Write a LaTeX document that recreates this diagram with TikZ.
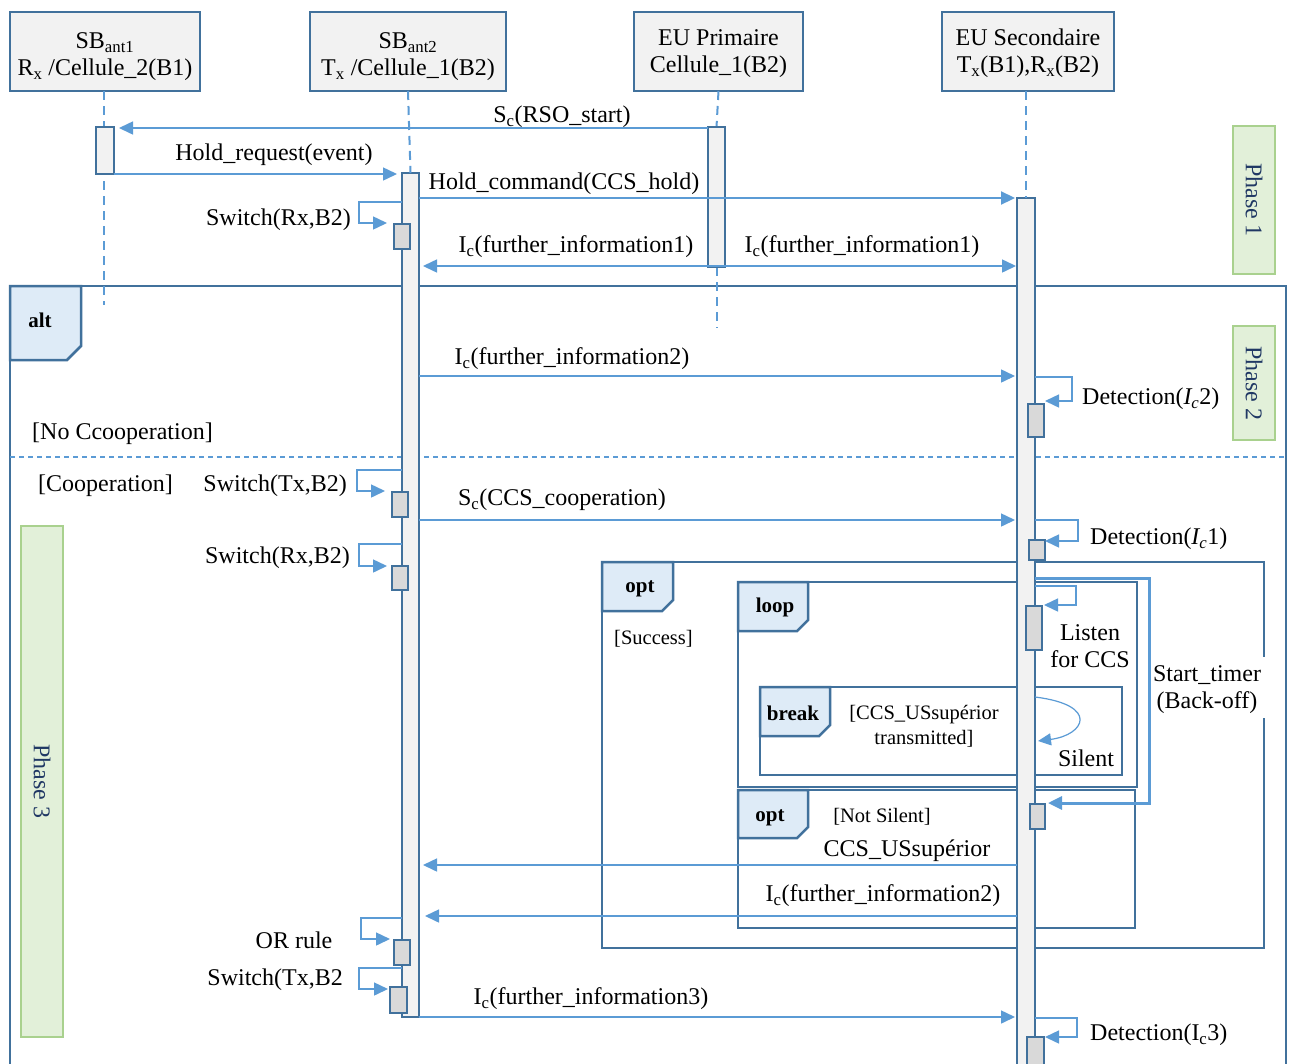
\documentclass[tikz,border=0pt]{standalone}
\usepackage{fontspec}
\setmainfont{Liberation Serif}
\usetikzlibrary{arrows.meta}
\definecolor{frameblue}{HTML}{41719C}
\definecolor{msgblue}{HTML}{5B9BD5}
\definecolor{hdrfill}{HTML}{F2F2F2}
\definecolor{sboxfill}{HTML}{D9D9D9}
\definecolor{tagfill}{HTML}{DEEBF7}
\definecolor{phasefill}{HTML}{E2F0D9}
\definecolor{phaseborder}{HTML}{A9D18E}
\definecolor{phasetext}{HTML}{203864}
\tikzset{
 hdr/.style={draw=frameblue,line width=2.5pt,fill=hdrfill,inner sep=0pt,outer sep=0pt},
 hdrtext/.style={align=center,inner sep=0pt,font=\fontsize{24}{27}\selectfont},
 actbar/.style={draw=frameblue,line width=2.5pt,fill=hdrfill,inner sep=0pt,outer sep=0pt},
 sbox/.style={draw=frameblue,line width=2.5pt,fill=sboxfill,inner sep=0pt,outer sep=0pt},
 life/.style={draw=msgblue,line width=2pt,dash pattern=on 9pt off 6pt},
 msg/.style={draw=msgblue,line width=1.5pt,-{Triangle[length=14pt,width=13pt]}},
 frm/.style={draw=frameblue,line width=2.5pt},
 tagbox/.style={draw=frameblue,line width=2.5pt,fill=tagfill},
 phasebox/.style={draw=phaseborder,line width=2.5pt,fill=phasefill,inner sep=0pt,outer sep=0pt},
 lbl/.style={inner sep=0pt,font=\fontsize{24}{27}\selectfont,align=center,yshift=-3pt},
 slbl/.style={inner sep=0pt,font=\fontsize{20.5}{25}\selectfont,align=center,yshift=-2pt},
 taglbl/.style={inner sep=0pt,font=\fontsize{21}{25}\selectfont\bfseries,yshift=-2pt},
}
\begin{document}
\begin{tikzpicture}[x=1pt,y=-1pt]
\clip (0,0) rectangle (1290,1063);
\fill[white] (0,0) rectangle (1290,1063);
% ---------- frames ----------
\draw[frm] (10,286) rectangle (1286,1120);
\draw[msgblue,line width=1.2pt,dash pattern=on 5pt off 4pt] (10,457) -- (1286,457);
\draw[frm] (602,562) rectangle (1264,948);
\draw[frm] (738,582) rectangle (1137,787);
\draw[frm] (760,687) rectangle (1122,775);
\draw[frm] (738,790) rectangle (1135,928);
\fill[white] (1256,657) rectangle (1272,718);
% tags
\draw[tagbox] (10,286) -- (81,286) -- (81,346) -- (67,360) -- (10,360) -- cycle;
\draw[tagbox] (602,562) -- (673,562) -- (673,600) -- (662,611) -- (602,611) -- cycle;
\draw[tagbox] (738,582) -- (808,582) -- (808,620) -- (797,631) -- (738,631) -- cycle;
\draw[tagbox] (760,687) -- (830,687) -- (830,725) -- (819,736) -- (760,736) -- cycle;
\draw[tagbox] (738,790) -- (808,790) -- (808,827) -- (797,838) -- (738,838) -- cycle;
\node[taglbl] (talt) at (40,318) {alt};
\node[taglbl] (topt1) at (640,587) {opt};
\node[taglbl] (tloop) at (775,605) {loop};
\node[taglbl] (tbreak) at (793,711) {break};
\node[taglbl] (topt2) at (770,816) {opt};
% ---------- phases ----------
\node[phasebox,minimum width=42pt,minimum height=148pt] (ph1) at (1254,200) {};
\node[phasebox,minimum width=42pt,minimum height=114pt] (ph2) at (1254,383) {};
\node[phasebox,minimum width=42pt,minimum height=511pt] (ph3) at (42,781.5) {};
\node[inner sep=0pt,font=\fontsize{24}{27}\selectfont,rotate=-90,text=phasetext] at (ph1) {Phase 1};
\node[inner sep=0pt,font=\fontsize{24}{27}\selectfont,rotate=-90,text=phasetext] at (ph2) {Phase 2};
\node[inner sep=0pt,font=\fontsize{24}{27}\selectfont,rotate=-90,text=phasetext] at (ph3) {Phase 3};
% ---------- headers ----------
\node[hdr,minimum width=190pt,minimum height=79pt] (h1) at (105,51.5) {};
\node[hdr,minimum width=196pt,minimum height=79pt] (h2) at (408,51.5) {};
\node[hdr,minimum width=169pt,minimum height=79pt] (h3) at (718.5,51.5) {};
\node[hdr,minimum width=172pt,minimum height=79pt] (h4) at (1028,51.5) {};
\node[hdrtext] (h1t) at ([yshift=-5pt]h1.center) {SB\textsubscript{ant1}\\R\textsubscript{x} /Cellule\_2(B1)};
\node[hdrtext] (h2t) at ([yshift=-5pt]h2.center) {SB\textsubscript{ant2}\\T\textsubscript{x} /Cellule\_1(B2)};
\node[hdrtext] (h3t) at ([yshift=-2pt]h3.center) {EU Primaire\\Cellule\_1(B2)};
\node[hdrtext] (h4t) at ([yshift=-2pt]h4.center) {EU Secondaire\\T\textsubscript{x}(B1),R\textsubscript{x}(B2)};
% ---------- bars ----------
\node[actbar,minimum width=18pt,minimum height=47pt] (b1) at (105,150.5) {};
\node[actbar,minimum width=17pt,minimum height=844pt] (b2) at (410.5,595) {};
\node[actbar,minimum width=17pt,minimum height=140pt] (b3) at (716.5,197) {};
\node[actbar,minimum width=18pt,minimum height=892pt] (b4) at (1026,644) {};
% lifelines
\draw[life] (h1.south -| 104,0) -- (104,305);
\draw[life] (h2.south) -- (b2.north);
\draw[life] (h3.south) -- (b3.north);
\draw[life] (b3.south) -- (b3.south |- 0,328);
\draw[life] (h4.south -| b4.north) -- (b4.north);
% redraw bars over lifelines
\node[actbar,minimum width=18pt,minimum height=47pt] at (105,150.5) {};
\node[actbar,minimum width=17pt,minimum height=140pt] at (716.5,197) {};
% small activation boxes
\node[sbox,minimum width=16pt,minimum height=25pt] (s1) at (402,236.5) {};
\node[sbox,minimum width=16pt,minimum height=25pt] (s2) at (400,504.5) {};
\node[sbox,minimum width=16pt,minimum height=24pt] (s3) at (400,578) {};
\node[sbox,minimum width=16pt,minimum height=25pt] (s4) at (402,952.5) {};
\node[sbox,minimum width=17pt,minimum height=26pt] (s5) at (398.5,1000) {};
\node[sbox,minimum width=16pt,minimum height=33pt] (d2) at (1036,420.5) {};
\node[sbox,minimum width=16pt,minimum height=20pt] (d1) at (1037,550) {};
\node[sbox,minimum width=16pt,minimum height=44pt] (ls) at (1034,628) {};
\node[sbox,minimum width=15pt,minimum height=25pt] (ns) at (1037.5,816.5) {};
\node[sbox,minimum width=17pt,minimum height=40pt] (d3) at (1035.5,1057) {};
% ---------- messages ----------
\draw[msg,shorten >=5pt] (b3.west |- 0,128) -- (b1.east |- 0,128);
\draw[msg,shorten >=5pt] (b1.east |- 0,174) -- (b2.west |- 0,174);
\draw[msg,line width=2.2pt,shorten >=2pt] (b2.east |- 0,198) -- (b4.west |- 0,198);
\draw[msg,{Triangle[length=14pt,width=13pt]}-{Triangle[length=14pt,width=13pt]},shorten <=4pt,shorten >=1pt] (b2.east |- 0,266) -- (b4.west |- 0,266);
\draw[msg,shorten >=2pt] (b2.east |- 0,376) -- (b4.west |- 0,376);
\draw[msg,shorten >=2pt] (b2.east |- 0,520) -- (b4.west |- 0,520);
\draw[msg,shorten >=4pt] (b4.west |- 0,865) -- (b2.east |- 0,865);
\draw[msg,shorten >=6pt] (b4.west |- 0,916) -- (b2.east |- 0,916);
\draw[msg,shorten >=2pt] (b2.east |- 0,1017) -- (b4.west |- 0,1017);
% self messages
\draw[msg,shorten >=7pt] (b2.west |- 0,202) -- (359,202) |- (s1.west |- 0,223);
\draw[msg,shorten >=7pt] (b2.west |- 0,470) -- (357,470) |- (s2.west |- 0,491);
\draw[msg,shorten >=5pt] (b2.west |- 0,544) -- (359,544) |- (s3.west |- 0,566);
\draw[msg,shorten >=4pt] (b2.west |- 0,918) -- (361,918) |- (s4.west |- 0,939);
\draw[msg,shorten >=2pt] (b2.west |- 0,968) -- (359,968) |- (s5.west |- 0,989);
\draw[msg,shorten >=1pt] (b4.east |- 0,377) -- (1072,377) |- (d2.east |- 0,401);
\draw[msg,shorten >=0pt] (b4.east |- 0,520) -- (1078,520) |- (d1.east |- 0,541);
\draw[msg,shorten >=2pt] (b4.east |- 0,586) -- (1076,586) |- (ls.east |- 0,605);
\draw[msg,shorten >=1pt] (b4.east |- 0,1018) -- (1077,1018) |- (d3.east |- 0,1037);
\draw[msgblue,line width=3pt,-{Triangle[length=14pt,width=13pt]},shorten >=3pt] (b4.east |- 0,578) -- (1149,578) |- (ns.east |- 0,803);
\draw[msgblue,line width=1.2pt,-{Triangle[length=13pt,width=12pt]}] (b4.east |- 0,697) .. controls (1100,705) and (1085,735) .. (1038,741);
% ---------- labels ----------
\node[lbl] (m1) at (562,114) {S\textsubscript{c}(RSO\_start)};
\node[lbl] (m2) at (274,152) {Hold\_request(event)};
\node[lbl] (m3) at (564,181) {Hold\_command(CCS\_hold)};
\node[lbl,anchor=east] (m4) at (351,217) {Switch(Rx,B2)};
\node[lbl] (m5) at (576,244) {I\textsubscript{c}(further\_information1)};
\node[lbl] (m6) at (862,244) {I\textsubscript{c}(further\_information1)};
\node[lbl] (m7) at (572,356) {I\textsubscript{c}(further\_information2)};
\node[lbl,anchor=west] (m8) at (1082,396) {Detection(\textit{I\textsubscript{c}}2)};
\node[lbl,anchor=west] (g1) at (32,431) {[No Ccooperation]};
\node[lbl,anchor=west] (g2) at (38,483) {[Cooperation]};
\node[lbl,anchor=east] (m9) at (347,483) {Switch(Tx,B2)};
\node[lbl] (m10) at (562,497) {S\textsubscript{c}(CCS\_cooperation)};
\node[lbl,anchor=west] (m11) at (1090,536) {Detection(\textit{I\textsubscript{c}}1)};
\node[lbl,anchor=east] (m12) at (350,555) {Switch(Rx,B2)};
\node[slbl,anchor=west] (g3) at (614,637) {[Success]};
\node[lbl] (m13) at (1090,643) {Listen\\for CCS};
\node[lbl] (m14) at (1207,687) {Start\_timer\\(Back-off)};
\node[slbl] (g4) at (924,724.5) {[CCS\_USsupérior\\transmitted]};
\node[lbl] (m15) at (1086,755) {Silent};
\node[slbl] (g5) at (882,815) {[Not Silent]};
\node[lbl] (m16) at (907,848) {CCS\_USsupérior};
\node[lbl] (m17) at (883,893) {I\textsubscript{c}(further\_information2)};
\node[lbl] (m18) at (294,937) {OR rule};
\node[lbl,anchor=east] (m19) at (343,977) {Switch(Tx,B2};
\node[lbl] (m20) at (591,996) {I\textsubscript{c}(further\_information3)};
\node[lbl,anchor=west] (m21) at (1090,1032) {Detection(I\textsubscript{c}3)};
\end{tikzpicture}
\end{document}
